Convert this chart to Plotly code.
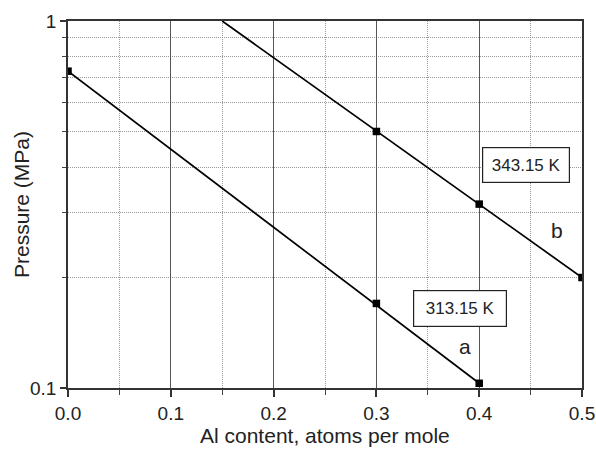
import plotly.graph_objects as go

# Data
a_x = [0.0, 0.3, 0.4]
a_y = [0.73, 0.17, 0.103]
b_x = [0.3, 0.4, 0.5]
b_y = [0.5, 0.317, 0.2]
# fitted lines drawn through the points
a_fit_x = [0.0, 0.4]
a_fit_y = [0.73, 0.103]
b_fit_x = [0.15, 0.5]
b_fit_y = [1.0, 0.2]

x_ticks = [0.0, 0.1, 0.2, 0.3, 0.4, 0.5]
x_ticktext = ["0.0", "0.1", "0.2", "0.3", "0.4", "0.5"]
x_minor = [0.05, 0.15, 0.25, 0.35, 0.45]
y_ticks = [0.1, 1]
y_ticktext = ["0.1", "1"]
y_minor = [0.2, 0.3, 0.4, 0.5, 0.6, 0.7, 0.8, 0.9]

FONT = "Liberation Sans, Arial, sans-serif"
TXT = "#222"

fig = go.Figure()
fig.add_trace(go.Scatter(x=a_fit_x, y=a_fit_y, mode="lines",
                         line=dict(color="black", width=1.7), showlegend=False))
fig.add_trace(go.Scatter(x=b_fit_x, y=b_fit_y, mode="lines",
                         line=dict(color="black", width=1.7), showlegend=False))
fig.add_trace(go.Scatter(x=a_x, y=a_y, mode="markers",
                         marker=dict(symbol="square", size=7.5, color="black"),
                         showlegend=False))
fig.add_trace(go.Scatter(x=b_x, y=b_y, mode="markers",
                         marker=dict(symbol="square", size=7.5, color="black"),
                         showlegend=False))

fig.update_xaxes(
    range=[0, 0.5], tickmode="array", tickvals=x_ticks, ticktext=x_ticktext,
    ticks="outside", ticklen=7, tickwidth=1.5, tickcolor="#333",
    showgrid=True, gridcolor="#555", gridwidth=1.3,
    showline=True, linecolor="#333", linewidth=1.6, mirror=True,
    zeroline=False, automargin=False,
    tickfont=dict(family=FONT, size=19, color=TXT),
    minor=dict(tickmode="array", tickvals=x_minor, ticks="outside", ticklen=5,
               tickwidth=1.2, tickcolor="#444", showgrid=True,
               gridcolor="#999", griddash="1px,1px", gridwidth=1),
)
fig.update_yaxes(
    type="log", range=[-1, 0], tickmode="array", tickvals=y_ticks, ticktext=y_ticktext,
    ticks="outside", ticklen=6, tickwidth=1.5, tickcolor="#333",
    showgrid=False,
    showline=True, linecolor="#333", linewidth=1.6, mirror=True,
    zeroline=False, automargin=False,
    tickfont=dict(family=FONT, size=19, color=TXT),
    minor=dict(tickmode="array", tickvals=y_minor, ticks="outside", ticklen=4,
               tickwidth=1.2, tickcolor="#444", showgrid=True,
               gridcolor="#999", griddash="1px,1px", gridwidth=1),
)

# axis titles
title_font = dict(family=FONT, size=21, color=TXT)
fig.add_annotation(text="Al content, atoms per mole", xref="paper", yref="paper",
                   x=0.5, y=-0.1662, xanchor="center", yanchor="bottom",
                   showarrow=False, font=title_font)
fig.add_annotation(text="Pressure (MPa)", xref="paper", yref="paper",
                   x=-0.0914, y=0.4986, xanchor="center", yanchor="middle",
                   textangle=-90, showarrow=False, font=title_font)

box = dict(xref="paper", yref="paper", showarrow=False,
           xanchor="center", yanchor="middle",
           font=dict(family=FONT, size=17, color=TXT),
           bgcolor="white", bordercolor="#222", borderwidth=1.2, borderpad=0)
fig.add_annotation(text="313.15 K", x=0.763, y=0.2166, width=92, height=35, **box)
fig.add_annotation(text="343.15 K", x=0.891, y=0.6076, width=86, height=34, **box)
lab = dict(xref="paper", yref="paper", showarrow=False,
           xanchor="center", yanchor="middle",
           font=dict(family=FONT, size=21, color=TXT))
fig.add_annotation(text="a", x=0.772, y=0.112, **lab)
fig.add_annotation(text="b", x=0.951, y=0.4305, **lab)

fig.update_layout(
    width=596, height=449,
    margin=dict(l=68, r=14, t=21, b=61),
    paper_bgcolor="white", plot_bgcolor="white",
)

fig.write_html("out.html")
